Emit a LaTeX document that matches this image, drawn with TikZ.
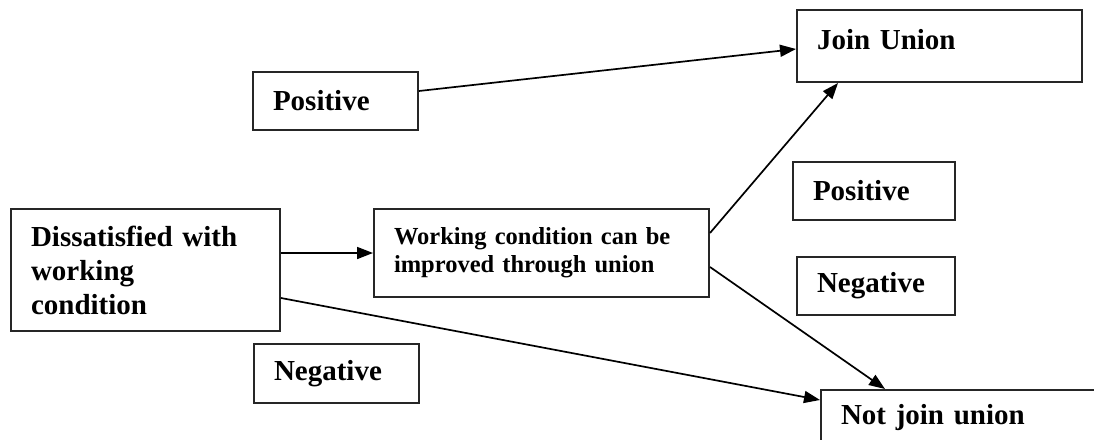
\documentclass[tikz,border=0pt]{standalone}
\usepackage{fontspec}
\setmainfont{Liberation Serif}
\usetikzlibrary{arrows.meta}
\tikzset{
  box/.style={draw, line width=2pt, draw=black!85, anchor=north west, inner xsep=20pt, inner ysep=0pt, align=left,
    font=\bfseries\fontsize{29}{34}\selectfont},
  link/.style={line width=1.7pt, -{Triangle[length=16pt,width=12pt]}}
}
\begin{document}
\begin{tikzpicture}[x=1pt,y=-1pt]
\useasboundingbox (0,0) rectangle (1094,439);
\node[box, minimum width=165pt, minimum height=58pt, text width=125pt] (posl) at (252,71) {Positive};
\node[box, minimum width=269pt, minimum height=122pt, text width=229pt] (dis) at (10,208) {Dissatisfied with\\working\\condition};
\node[box, minimum width=335pt, minimum height=88pt, text width=295pt,
  font=\bfseries\fontsize{24.5}{28}\selectfont] (work) at (373,208) {Working condition can be\\improved through union};
\node[box, minimum width=165pt, minimum height=59pt, text width=125pt] (negl) at (253,343) {Negative};
\node[box, minimum width=285pt, minimum height=72pt, text width=245pt, text depth=14pt] (join) at (796,9) {Join Union};
\node[box, minimum width=162pt, minimum height=58pt, text width=122pt] (posr) at (792,161) {Positive};
\node[box, minimum width=158pt, minimum height=58pt, text width=118pt] (negr) at (796,256) {Negative};
\node[box, minimum width=340pt, minimum height=56pt, text width=300pt] (notj) at (820,389) {Not join union};
\draw[link] ([yshift=10pt]posl.east) -- ([yshift=-3pt]join.west);
\draw[link] ([yshift=17pt]dis.east) -- (work.west);
\draw[link] ([yshift=-28pt]dis.east) -- ([yshift=-11pt]notj.north west);
\draw[link] ([yshift=20pt]work.east) -- ([xshift=42pt]join.south west);
\draw[link] ([yshift=-14pt]work.east) -- ([xshift=65pt]notj.north west);
\end{tikzpicture}
\end{document}
